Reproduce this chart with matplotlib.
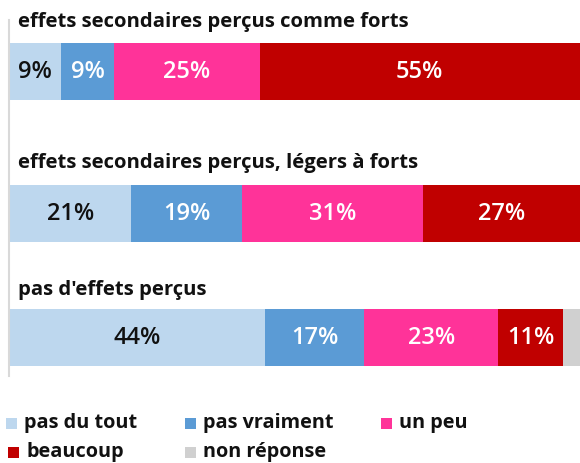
import matplotlib
matplotlib.use('Agg')
import matplotlib.pyplot as plt
from matplotlib.patches import Rectangle

# data
groups = ['effets secondaires perçus comme forts',
          'effets secondaires perçus, légers à forts',
          "pas d'effets perçus"]
categories = ['pas du tout', 'pas vraiment', 'un peu', 'beaucoup', 'non réponse']
pas_du_tout = [9, 21, 44]
pas_vraiment = [9, 19, 17]
un_peu = [25, 31, 23]
beaucoup = [55, 27, 11]
non_reponse = [0, 0, 3]

series = [pas_du_tout, pas_vraiment, un_peu, beaucoup, non_reponse]
colors = ['#bdd7ee', '#5b9bd5', '#ff3399', '#c00000', '#d0d0d0']
text_colors = ['#111111', 'white', 'white', 'white', None]

W, H = 580, 463
FONT = ['Open Sans', 'DejaVu Sans']
plt.rcParams['font.family'] = FONT

fig = plt.figure(figsize=(W / 100, H / 100), dpi=100)
# axes in pixel-like units so the uneven row spacing can be kept
ax = fig.add_axes([9 / W, 0, (W - 9) / W, 1])
ax.set_ylim(H, 0)
total = max(sum(s[i] for s in series) for i in range(len(groups)))
ax.set_xlim(0, total)

bar_y = [71, 213.5, 337.5]
title_y = [22, 163, 290]
bar_h = 57

for i, g in enumerate(groups):
    left = 0
    for s, c, tc in zip(series, colors, text_colors):
        v = s[i]
        if v <= 0:
            continue
        ax.barh(bar_y[i], v, left=left, height=bar_h, color=c, linewidth=0)
        if tc is not None:
            ax.text(left + v / 2, bar_y[i] + 1, f'{v}%', ha='center', va='center',
                    fontsize=17, fontweight='semibold', color=tc)
        left += v
    ax.text(9 / (W - 9) * total, title_y[i], g, ha='left', va='center',
            fontsize=14.6, fontweight='bold', color='#111111')

for sp in ['top', 'right', 'bottom']:
    ax.spines[sp].set_visible(False)
ax.spines['left'].set_color('#d9d9d9')
ax.spines['left'].set_linewidth(1.5)
ax.spines['left'].set_bounds(20, 376)
ax.set_xticks([])
ax.set_yticks([])
ax.patch.set_alpha(0)

# legend drawn by hand: 3 items on first row, 2 on second
leg_pos = [(6, 423), (185, 423), (381, 423), (8, 452), (185, 452)]
for (x, y), name, c in zip(leg_pos, categories, colors):
    fig.add_artist(Rectangle((x / W, 1 - (y + 5.5) / H), 11 / W, 11 / H,
                             transform=fig.transFigure, color=c, linewidth=0))
    fig.text((x + 18) / W, 1 - y / H, name, ha='left', va='center',
             fontsize=14.3, fontweight='bold', color='#111111')

fig.savefig('out.png', dpi=100)
